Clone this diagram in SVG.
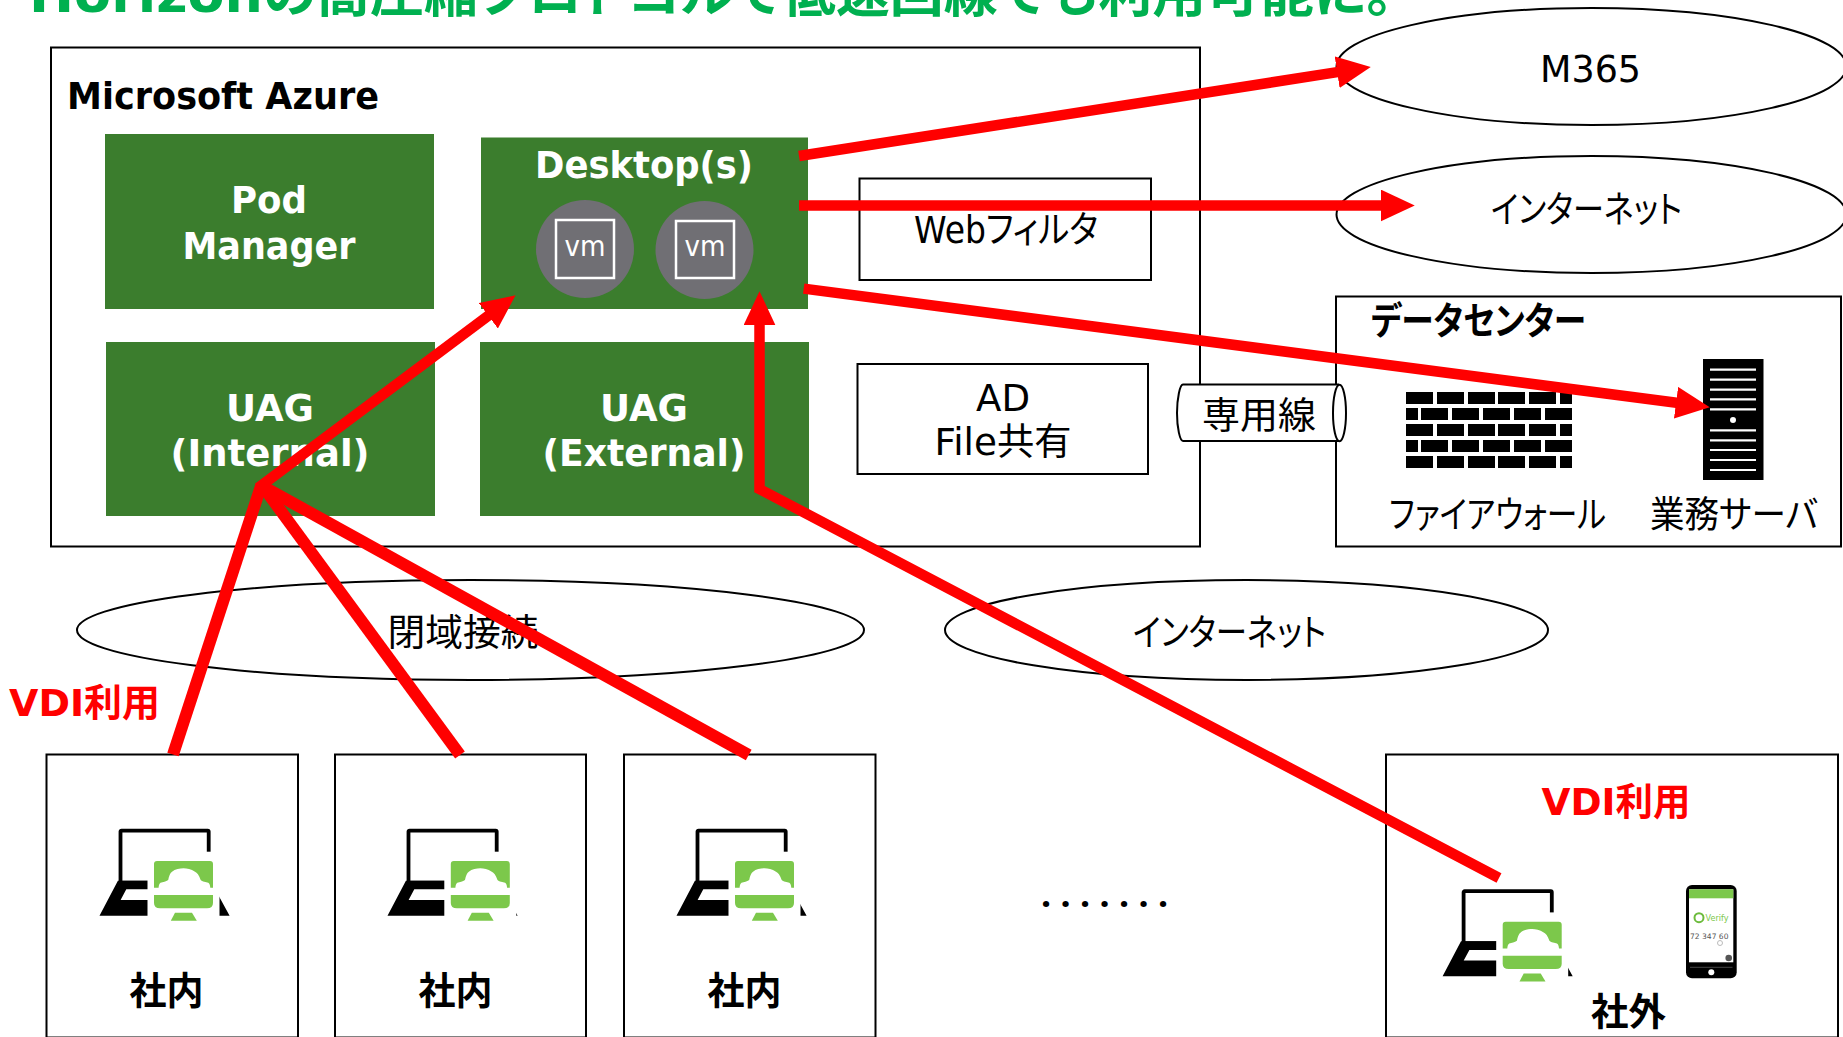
<svg xmlns="http://www.w3.org/2000/svg" xmlns:xlink="http://www.w3.org/1999/xlink" width="1843" height="1037" viewBox="0 0 1843 1037">
<style>
text{font-family:"DejaVu Sans","Noto Sans CJK JP",sans-serif;fill:#000;font-size:37px;font-feature-settings:"palt"}
.b{font-weight:700;font-size:38px}
.c{text-anchor:middle}
.w{fill:#fff}
.r{fill:#f00}
.box{fill:#fff;stroke:#000;stroke-width:2}
.green{fill:#3b7d2d}
.vmc{fill:#706f74}
.vmb{fill:none;stroke:#fff;stroke-width:2.5}
.l{fill:none;stroke:#f00;stroke-width:10.5;stroke-linejoin:miter}
.t{stroke-width:12}
.g{fill:#7cc84b}
</style>
<defs>
<marker id="ah" markerUnits="userSpaceOnUse" markerWidth="34" markerHeight="32" viewBox="0 0 33 31" refX="8" refY="15.5" orient="auto"><path d="M0,0L33,15.5L0,31Z" fill="#f00"/></marker>
<g id="laptop">
<rect x="1.9" y="1.9" width="88.2" height="52" rx="1" fill="none" stroke="#000" stroke-width="3.8"/>
<path fill-rule="evenodd" d="M-19.1,87L-0.7,52H91.9L111,87ZM7.7,60.6L2,71.3H90L84,60.6Z" fill="#000"/>
</g>
<g id="vdi">
<rect x="-6.5" y="-9.3" width="72" height="70" fill="#fff"/>
<path class="g" d="M3,0H56Q59,0 59,3V26.7H56.3C56,23 55,22 54.3,21.7C50,21 47.5,20 46.7,19C45,14 43,11.5 41,10.7C37,8 33,7.3 29.5,7.3C26,7.3 21,8 18,10.7C16,12 15,15 14.2,19C12,20.5 9,21 6.5,21.7C5,23 4.7,25 4.6,26.7H0V3Q0,0 3,0Z"/>
<path class="g" d="M0,34H59V42Q59,47.3 53,47.3H6Q0,47.3 0,42Z"/>
<path class="g" d="M21,51.7H38L42.8,59.7H16.8Z"/>
</g>
</defs>
<rect width="1843" height="1037" fill="#fff"/>
<g id="title"><text class="b" x="29" y="12" style="font-size:52px;fill:#00b050" textLength="1364" lengthAdjust="spacingAndGlyphs">Horizonの高圧縮プロトコルで低速回線でも利用可能に。</text></g>
<g id="azure"><rect class="box" x="51" y="47.5" width="1149" height="499"/><text class="b" x="67" y="109" textLength="312" lengthAdjust="spacingAndGlyphs">Microsoft Azure</text></g>
<g id="pod-manager"><rect class="green" x="105" y="134" width="329" height="175"/><text class="b w c" x="269" y="213" textLength="76" lengthAdjust="spacingAndGlyphs">Pod</text><text class="b w c" x="269" y="258.5" textLength="173" lengthAdjust="spacingAndGlyphs">Manager</text></g>
<g id="desktops"><rect class="green" x="481" y="137.5" width="327" height="171.5"/><text class="b w c" x="644" y="178" textLength="218" lengthAdjust="spacingAndGlyphs">Desktop(s)</text>
<ellipse class="vmc" cx="585" cy="249" rx="49" ry="49"/><rect class="vmb" x="556" y="220" width="58" height="58"/><text class="w c" x="585" y="256" style="font-size:28px" textLength="41" lengthAdjust="spacingAndGlyphs">vm</text>
<ellipse class="vmc" cx="704.5" cy="250" rx="49" ry="49"/><rect class="vmb" x="676" y="221" width="58" height="57"/><text class="w c" x="705" y="256" style="font-size:28px" textLength="41" lengthAdjust="spacingAndGlyphs">vm</text></g>
<g id="uag-internal"><rect class="green" x="106" y="342" width="329" height="174"/><text class="b w c" x="270" y="421" textLength="88" lengthAdjust="spacingAndGlyphs">UAG</text><text class="b w c" x="270" y="466" textLength="199" lengthAdjust="spacingAndGlyphs">(Internal)</text></g>
<g id="uag-external"><rect class="green" x="480" y="342" width="329" height="174"/><text class="b w c" x="644" y="421" textLength="88" lengthAdjust="spacingAndGlyphs">UAG</text><text class="b w c" x="644" y="466" textLength="203" lengthAdjust="spacingAndGlyphs">(External)</text></g>
<g id="web-filter"><rect class="box" x="859.5" y="178.5" width="291.5" height="101.5"/><text x="914" y="243" textLength="184" lengthAdjust="spacingAndGlyphs">Webフィルタ</text></g>
<g id="ad-file"><rect class="box" x="857.5" y="364" width="290.5" height="110"/><text class="c" x="1003" y="410.5" textLength="54" lengthAdjust="spacingAndGlyphs">AD</text><text class="c" x="1003" y="455" textLength="137" lengthAdjust="spacingAndGlyphs">File共有</text></g>
<g id="m365"><ellipse cx="1591.5" cy="66.5" rx="255" ry="58.5" fill="#fff" stroke="#000" stroke-width="2"/><text x="1540" y="81.5" textLength="101" lengthAdjust="spacingAndGlyphs">M365</text></g>
<g id="internet-top"><ellipse cx="1591.5" cy="214.5" rx="255" ry="58.5" fill="#fff" stroke="#000" stroke-width="2"/><text x="1491" y="223" textLength="191" lengthAdjust="spacingAndGlyphs">インターネット</text></g>
<g id="datacenter"><rect class="box" x="1336" y="296.5" width="505" height="250"/><text class="b" x="1371" y="334" textLength="215" lengthAdjust="spacingAndGlyphs">データセンター</text>
<g id="firewall" fill="#000">
<path d="M1406,392h27v12h-27zM1437,392h27v12h-27zM1468,392h27v12h-27zM1498,392h27v12h-27zM1529,392h27v12h-27zM1560,392h12v12h-12z"/>
<path d="M1406,408h12v12h-12zM1421,408h27v12h-27zM1452,408h27v12h-27zM1483,408h27v12h-27zM1514,408h27v12h-27zM1545,408h27v12h-27z"/>
<path d="M1406,424h27v12h-27zM1437,424h27v12h-27zM1468,424h27v12h-27zM1498,424h27v12h-27zM1529,424h27v12h-27zM1560,424h12v12h-12z"/>
<path d="M1406,440h12v12h-12zM1421,440h27v12h-27zM1452,440h27v12h-27zM1483,440h27v12h-27zM1514,440h27v12h-27zM1545,440h27v12h-27z"/>
<path d="M1406,456h27v12h-27zM1437,456h27v12h-27zM1468,456h27v12h-27zM1498,456h27v12h-27zM1529,456h27v12h-27zM1560,456h12v12h-12z"/>
</g>
<g id="server"><rect x="1703" y="359" width="60.5" height="121" fill="#000"/><path d="M1710,369.6h46M1710,379.6h46M1710,389.6h46M1710,399.3h46M1710,409.3h46M1710,430.4h46M1710,440.4h46M1710,450h46M1710,460h46M1710,470h46" stroke="#fff" stroke-width="2.2"/><circle cx="1733" cy="420" r="3" fill="#fff"/></g>
<text x="1389" y="528" textLength="217" lengthAdjust="spacingAndGlyphs">ファイアウォール</text><text x="1650" y="528" textLength="168" lengthAdjust="spacingAndGlyphs">業務サーバ</text></g>
<g id="dedicated-line"><path d="M1339,384.6H1183C1180,384.6 1177,398 1177,413C1177,428 1180,441 1183,441H1339" fill="#fff" stroke="#000" stroke-width="2"/><ellipse cx="1339.5" cy="413" rx="6.5" ry="28.2" fill="#fff" stroke="#000" stroke-width="2"/><text x="1202" y="428.5" textLength="114" lengthAdjust="spacingAndGlyphs">専用線</text></g>
<g id="closed-network"><ellipse cx="470.5" cy="630" rx="393.5" ry="50" fill="#fff" stroke="#000" stroke-width="2"/><text x="387.5" y="646" textLength="151" lengthAdjust="spacingAndGlyphs">閉域接続</text></g>
<g id="internet-bottom"><ellipse cx="1246.5" cy="630" rx="301.5" ry="50" fill="#fff" stroke="#000" stroke-width="2"/><text x="1133" y="646" textLength="193" lengthAdjust="spacingAndGlyphs">インターネット</text></g>
<g id="vdi-label"><text class="b r" x="9" y="716" textLength="151" lengthAdjust="spacingAndGlyphs">VDI利用</text></g>
<g id="client-1"><rect class="box" x="46.5" y="754.5" width="251.5" height="283"/><use xlink:href="#laptop" href="#laptop" x="118.6" y="828.7"/><use xlink:href="#vdi" href="#vdi" x="154" y="861"/><text class="b" x="129.5" y="1004" textLength="74" lengthAdjust="spacingAndGlyphs">社内</text></g>
<g id="client-2"><rect class="box" x="335" y="754.5" width="251" height="283"/><use xlink:href="#laptop" href="#laptop" x="406.6" y="828.7"/><use xlink:href="#vdi" href="#vdi" x="450.8" y="861"/><text class="b" x="418.5" y="1004" textLength="74" lengthAdjust="spacingAndGlyphs">社内</text></g>
<g id="client-3"><rect class="box" x="624" y="754.5" width="251.5" height="283"/><use xlink:href="#laptop" href="#laptop" x="695.6" y="828.7"/><use xlink:href="#vdi" href="#vdi" x="735" y="861"/><text class="b" x="707.5" y="1004" textLength="74" lengthAdjust="spacingAndGlyphs">社内</text></g>
<g id="ellipsis"><text x="1041" y="906.5" style="font-family:'Noto Sans',sans-serif;font-size:36px;font-weight:700" textLength="127" lengthAdjust="spacing">.......</text></g>
<g id="client-external"><rect class="box" x="1386" y="754.5" width="452" height="283"/><text class="b r" x="1541.5" y="815" textLength="149" lengthAdjust="spacingAndGlyphs">VDI利用</text><use xlink:href="#laptop" href="#laptop" x="1461.7" y="889.3"/><use xlink:href="#vdi" href="#vdi" x="1502.7" y="921.7"/>
<g id="phone"><rect x="1686" y="885" width="50.7" height="93.3" rx="6" fill="#000"/><rect x="1689" y="889.3" width="44.3" height="73" fill="#fff"/><rect x="1689" y="889.3" width="44.3" height="9" class="g"/><circle cx="1699" cy="917.7" r="4.5" fill="none" stroke="#6cbb3c" stroke-width="2"/><text x="1705.5" y="921" style="font-size:8px;fill:#7cc84b" textLength="23" lengthAdjust="spacingAndGlyphs">Verify</text><text x="1690" y="938.7" style="font-size:7.5px;fill:#555" textLength="38.5" lengthAdjust="spacingAndGlyphs">72 347 60</text><circle cx="1728.7" cy="958" r="3.3" fill="#555"/><circle cx="1720" cy="943" r="2.5" fill="none" stroke="#bbb" stroke-width="1"/><path d="M1690,967.3H1732.5" stroke="#666" stroke-width=".7"/><circle cx="1711.3" cy="972.3" r="3" fill="#fff"/></g>
<text class="b" x="1591" y="1025" textLength="75" lengthAdjust="spacingAndGlyphs">社外</text></g>
<g id="connectors">
<path class="l" d="M799,156L1345.3,70.9" marker-end="url(#ah)"/>
<path class="l" d="M799,205.5L1389,205.5" marker-end="url(#ah)"/>
<path class="l" d="M803.7,288.6L1684.2,403.8" marker-end="url(#ah)"/>
<path class="l t" d="M173,754.5L261,486"/>
<path class="l" d="M258,488L494.9,310.8" marker-end="url(#ah)"/>
<path class="l t" d="M460,755L264,488"/>
<path class="l t" d="M748.7,755L262,486"/>
<path class="l" d="M1499,878L759.5,489V317" marker-end="url(#ah)"/>
</g>
</svg>
